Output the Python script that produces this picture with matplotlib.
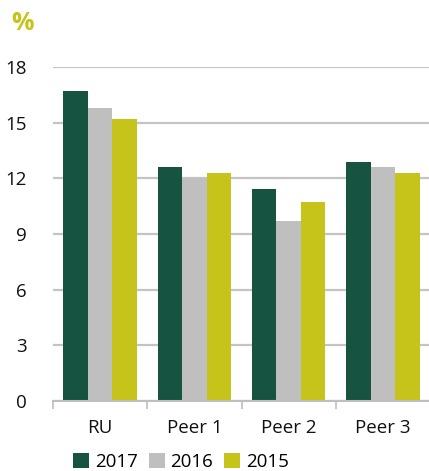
import matplotlib
matplotlib.use("Agg")
import matplotlib.pyplot as plt
import numpy as np
from matplotlib.patches import Patch

categories = ["RU", "Peer 1", "Peer 2", "Peer 3"]
series_names = ["2017", "2016", "2015"]
v2017 = [16.7, 12.6, 11.4, 12.9]
v2016 = [15.8, 12.0, 9.7, 12.6]
v2015 = [15.2, 12.3, 10.7, 12.3]
yticks = [0, 3, 6, 9, 12, 15, 18]

colors = ["#165341", "#BFBFBF", "#C6C41B"]
plt.rcParams['font.family'] = ['Open Sans', 'DejaVu Sans']

fig = plt.figure(figsize=(4.29, 4.71), dpi=100)
ax = fig.add_axes([53/429, 1-401/471, 377/429, (401-67)/471])

x = np.arange(len(categories))
w = 0.26
for i, (vals, c) in enumerate(zip([v2017, v2016, v2015], colors)):
    ax.bar(x + (i-1)*w, vals, width=w, color=c, zorder=3)

ax.set_xlim(-0.5, len(categories)-0.5)
ax.set_ylim(0, 18)
ax.set_yticks(yticks)
ax.set_yticklabels([str(t) for t in yticks], fontsize=13.5, color="#111111")
ax.yaxis.grid(True, color="#C4C4C4", linewidth=1.6, zorder=0)
ax.tick_params(axis='y', length=0, pad=19)
ax.set_xticks(x)
ax.set_xticklabels(categories, fontsize=13.5, color="#111111")
ax.tick_params(axis='x', length=0, pad=13)
ax.set_xticks(np.arange(len(categories)+1)-0.5, minor=True)
ax.tick_params(axis='x', which='minor', length=6, width=1.2, color="#BFBFBF")
for s in ["top", "right", "left"]:
    ax.spines[s].set_visible(False)
ax.spines["bottom"].set_color("#BFBFBF")
ax.spines["bottom"].set_linewidth(1.5)
ax.spines["bottom"].set_zorder(4)

fig.text(11/429, 1-23/471, "%", fontsize=18, fontweight="bold", color="#C6C41B", va="center", ha="left")

handles = [Patch(facecolor=c, edgecolor='none') for c in colors]
fig.legend(handles, series_names, loc="center", bbox_to_anchor=(181/429, 1-462/471),
           ncol=3, frameon=False, fontsize=13.5, handlelength=0.85, handleheight=0.85,
           handletextpad=0.3, columnspacing=0.6)

fig.savefig("out.png", dpi=100)
